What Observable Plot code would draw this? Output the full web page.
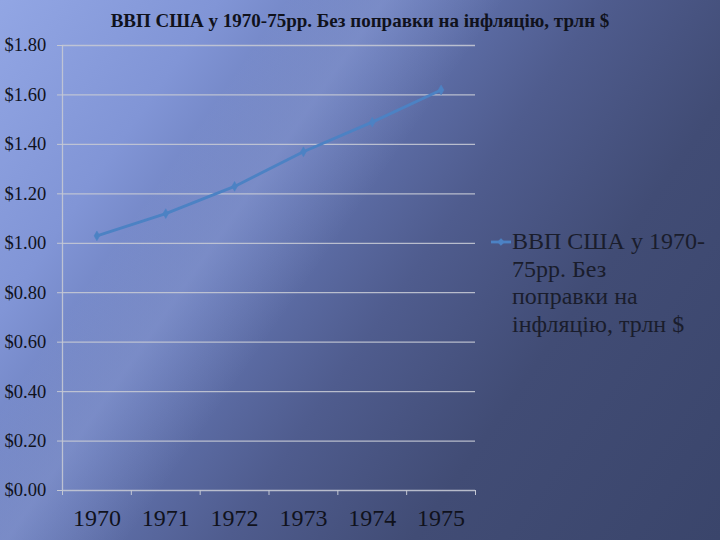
<!DOCTYPE html>
<html><head><meta charset="utf-8">
<script src="https://cdn.jsdelivr.net/npm/d3@7"></script>
<script src="https://cdn.jsdelivr.net/npm/@observablehq/plot@0.6"></script>
<style>
html,body{margin:0;padding:0;background:#3b466c;}
#page{position:relative;width:720px;height:540px;overflow:hidden;
 background:
  linear-gradient(125deg, rgba(255,255,255,0) 26%, rgba(190,205,255,0.20) 35%, rgba(255,255,255,0) 46%),
  linear-gradient(125deg, #92a6e4 0%, #8195d6 20%, #6476b3 38%, #4f5c8e 55%, #414c75 72%, #3a456b 100%);}
#title{position:absolute;left:0;top:0;width:720px;height:32px;text-align:center;font:bold 19px "Liberation Serif",serif;line-height:42px;color:#10121c;}
#chart{position:absolute;left:0;top:32px;}
#legend{position:absolute;left:490px;top:228px;width:230px;font:24px "Liberation Serif",serif;line-height:27.7px;color:#1a1d2c;}
#legend .txt{position:absolute;left:22px;top:0;white-space:nowrap;}
#legend svg{position:absolute;left:0;top:7px;}
</style>
</head><body>
<div id="page">
 <div id="title"></div>
 <div id="chart"></div>
 <div id="legend"></div>
</div>
<script>
const years = [1970, 1971, 1972, 1973, 1974, 1975];
const gdp = [1.03, 1.12, 1.23, 1.37, 1.49, 1.62];
const yTicks = [0, 0.2, 0.4, 0.6, 0.8, 1.0, 1.2, 1.4, 1.6, 1.8];
const seriesName = "ВВП США у 1970-75рр. Без поправки на інфляцію, трлн $";
const legendLines = ["ВВП США у 1970-", "75рр. Без", "поправки на", "інфляцію, трлн $"];

const lineColor = "#4c82c4";
const gridColor = "#c4c8d4";
const data = years.map((y, i) => ({year: y, gdp: gdp[i]}));
const bounds = [years[0] - 0.5, ...years.map(y => y + 0.5)];

document.getElementById("title").textContent = seriesName;

const chart = Plot.plot({
  width: 720,
  height: 508,
  marginTop: 13,
  marginBottom: 50,
  marginLeft: 62,
  marginRight: 245,
  style: {background: "transparent", fontFamily: "Liberation Serif, serif", color: "#10121c", overflow: "visible"},
  x: {type: "linear", domain: [bounds[0], bounds[bounds.length - 1]]},
  y: {domain: [0, 1.8]},
  marks: [
    Plot.ruleY(yTicks, {stroke: gridColor, strokeWidth: 1.3, strokeOpacity: 0.9}),
    Plot.axisY({ticks: yTicks, tickSize: 5, tickFormat: () => "", stroke: gridColor, label: null}),
    Plot.ruleX([bounds[0]], {stroke: gridColor, strokeWidth: 1.3, strokeOpacity: 0.9}),
    Plot.axisX({ticks: bounds, tickSize: 5, tickFormat: () => "", stroke: gridColor, label: null}),
    Plot.axisX({ticks: years, tickSize: 0, tickPadding: 18, tickFormat: d => String(d), fontSize: 24, label: null}),
    Plot.text(yTicks, {y: d => d, text: d => "$" + d.toFixed(2), frameAnchor: "left", textAnchor: "start", dx: -58, fontSize: 18.5, fill: "#10121c"}),
    Plot.line(data, {x: "year", y: "gdp", stroke: lineColor, strokeWidth: 2.8}),
    Plot.dot(data, {x: "year", y: "gdp", symbol: "diamond", r: 3, fill: lineColor, stroke: lineColor, strokeWidth: 0.5})
  ]
});
document.getElementById("chart").append(chart);

const leg = document.getElementById("legend");
const sw = d3.create("svg").attr("width", 22).attr("height", 14);
sw.append("line").attr("x1", 1).attr("x2", 21).attr("y1", 7).attr("y2", 7).attr("stroke", lineColor).attr("stroke-width", 2.8);
sw.append("path").attr("d", d3.symbol(d3.symbolDiamond2, 30)()).attr("transform", "translate(11,7)").attr("fill", lineColor).attr("stroke", lineColor).attr("stroke-width", 0.5);
leg.append(sw.node());
const txt = document.createElement("div");
txt.className = "txt";
txt.innerHTML = legendLines.join("<br>");
leg.append(txt);
</script>
</body></html>
